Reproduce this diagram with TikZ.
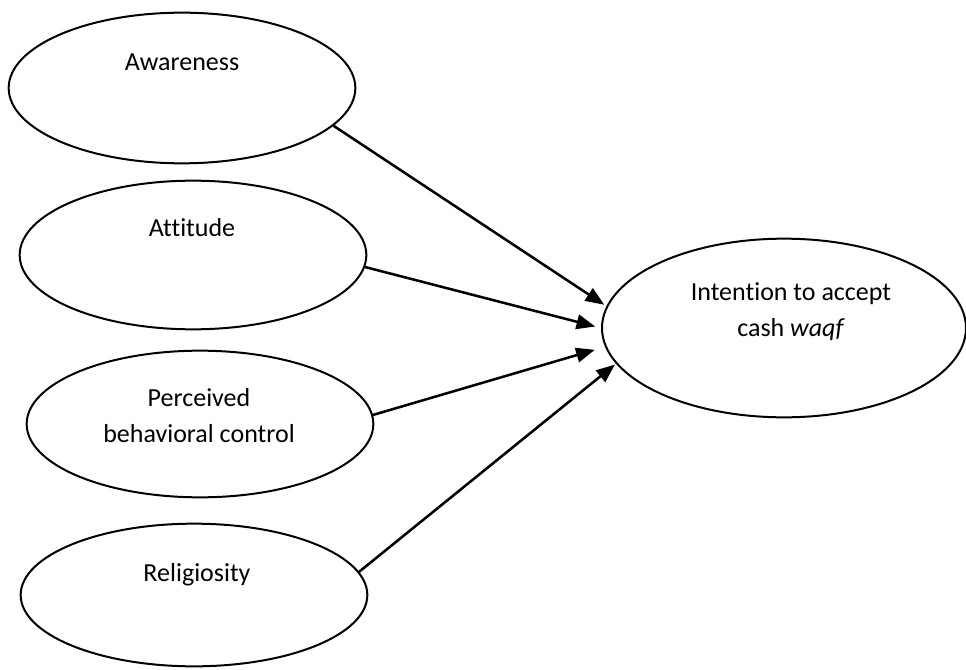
\documentclass[tikz,border=0pt]{standalone}
\usepackage{fontspec}
\setmainfont{Carlito}[Ligatures={NoCommon}]
\usetikzlibrary{shapes.geometric,arrows.meta}
\tikzset{
  oval/.style={draw=black, line width=1.5pt, ellipse, inner sep=0pt, fill=white},
  lbl/.style={font=\fontsize{19.5}{26.5}\selectfont, inner sep=0pt, align=center, anchor=base},
  link/.style={line width=1.9pt, -{Triangle[length=14pt,width=11pt]}}
}
\begin{document}
\begin{tikzpicture}[x=0.75pt,y=-0.75pt]
\useasboundingbox (0,0) rectangle (966,670);
\node[oval, minimum width=260pt, minimum height=113pt] (aw) at (182,88) {};
\node[oval, minimum width=260pt, minimum height=111.5pt] (at) at (193,255) {};
\node[oval, minimum width=260pt, minimum height=110pt] (pb) at (200,424) {};
\node[oval, minimum width=260pt, minimum height=107pt] (re) at (194,595) {};
\node[oval, minimum width=273pt, minimum height=134pt] (int) at (784,328) {};
\node[lbl] (awt) at (182,71) {Awareness};
\node[lbl] (att) at (192,237) {Attitude};
\node[lbl] (pbt) at (199,442) {Perceived\\behavioral control};
\node[lbl] (ret) at (197,581) {Religiosity};
\node[lbl] (intt) at (791,336) {Intention to accept\\cash \textit{waqf}};
\draw[link, shorten >=2pt] (aw.-14.8) -- (int.173.4);
\draw[link, shorten >=4.5pt] (at.-4.6) -- (int.180);
\draw[link, shorten >=8pt] (pb.3.6) -- (int.186.3);
\draw[link, shorten >=1pt] (re.8.6) -- (int.192.4);
\end{tikzpicture}
\end{document}
